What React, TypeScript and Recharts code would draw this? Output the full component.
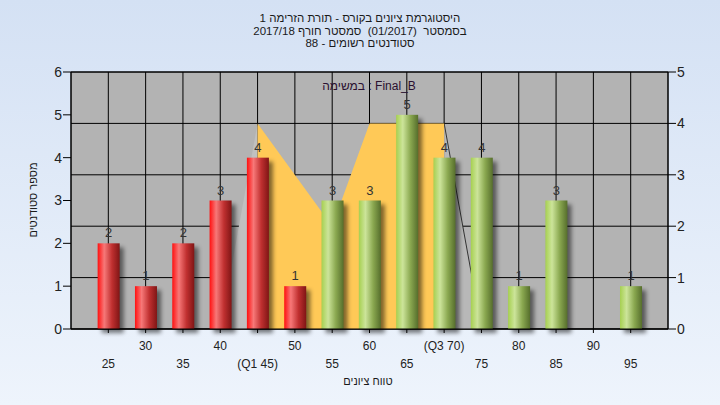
import { ComposedChart, Bar, Area, XAxis, YAxis, CartesianGrid, LabelList } from 'recharts';

// grade buckets and student counts (left axis)
const GRADES = [25, 30, 35, 40, 45, 50, 55, 60, 65, 70, 75, 80, 85, 90, 95];
const COUNTS = [2, 1, 2, 3, 4, 1, 3, 3, 5, 4, 4, 1, 3, 0, 1];
const PASS_FROM = 55;
const TICK_NAMES: Record<number, string> = { 45: '(Q1 45)', 70: '(Q3 70)' };

// Q1..Q3 band (right axis)
const BAND_GRADES = [45, 55, 60, 70];
const BAND_VALUES = [4, 2, 4, 4];
const SIDE_L_GRADES = [40, 45];
const SIDE_L_VALUES = [0, 4];
const SIDE_R_GRADES = [70, 75];
const SIDE_R_VALUES = [4, 0];

const LEFT_TICKS = [0, 1, 2, 3, 4, 5, 6];
const RIGHT_TICKS = [0, 1, 2, 3, 4, 5];

const TITLE_LINES = [
  'היסטוגרמת ציונים בקורס - תורת הזרימה 1',
  'בסמסטר  (01/2017)  סמסטר חורף 2017/18',
  'סטודנטים רשומים - 88',
];
const TASK_LABEL = 'במשימה : Final_B';
const X_TITLE = 'טווח ציונים';
const Y_TITLE = 'מספר סטודנטים';

const pick = (gs: number[], vs: number[], g: number) => {
  const i = gs.indexOf(g);
  return i < 0 ? null : vs[i];
};

const data = GRADES.map((g, i) => ({
  grade: g,
  count: COUNTS[i],
  band: pick(BAND_GRADES, BAND_VALUES, g),
  sideL: pick(SIDE_L_GRADES, SIDE_L_VALUES, g),
  sideR: pick(SIDE_R_GRADES, SIDE_R_VALUES, g),
}));

const CylBar = (props: any) => {
  const { x, y, width, height, payload } = props;
  if (!height || height <= 0) return null;
  const fill = payload && payload.grade >= PASS_FROM ? 'url(#gGreen)' : 'url(#gRed)';
  return (
    <g>
      <rect x={x + 4} y={y + 4} width={width} height={height} fill="#000" opacity={0.5} filter="url(#barShadow)" />
      <rect x={x} y={y} width={width} height={height} fill={fill} />
    </g>
  );
};

const GradeTick = ({ x, y, payload }: any) => {
  const v = payload.value;
  const dy = v % 10 === 0 ? 15 : 33;
  return (
    <text x={x} y={y + dy} textAnchor="middle" fontSize={12} fill="#222">
      {TICK_NAMES[v] ?? v}
    </text>
  );
};

const heb = { direction: 'rtl' as const, whiteSpace: 'pre' as const };

export default function App() {
  return (
    <div
      style={{
        position: 'absolute',
        left: 0,
        top: 0,
        width: 720,
        height: 405,
        background: 'linear-gradient(180deg, #d4e1f4 0%, #eef4fc 100%)',
        fontFamily: '"Liberation Sans", Arial, sans-serif',
      }}
    >
      <div style={{ position: 'absolute', left: 0, top: 12, width: 720, textAlign: 'center', fontSize: 11.5, lineHeight: '12.5px', color: '#1a1a1a' }}>
        {TITLE_LINES.map(t => (
          <div key={t} style={heb}>{t}</div>
        ))}
      </div>

      <ComposedChart width={720} height={405} data={data} margin={{ top: 72, right: 0, bottom: 0, left: 0 }}>
        <defs>
          <linearGradient id="gRed" x1="0" y1="0" x2="1" y2="0">
            <stop offset="0%" stopColor="#ff1010" />
            <stop offset="30%" stopColor="#f77878" />
            <stop offset="65%" stopColor="#c03030" />
            <stop offset="100%" stopColor="#801515" />
          </linearGradient>
          <linearGradient id="gGreen" x1="0" y1="0" x2="1" y2="0">
            <stop offset="0%" stopColor="#a6d050" />
            <stop offset="30%" stopColor="#cce49a" />
            <stop offset="65%" stopColor="#8aa850" />
            <stop offset="100%" stopColor="#566e2c" />
          </linearGradient>
          <filter id="barShadow" x="-50%" y="-10%" width="200%" height="120%">
            <feGaussianBlur stdDeviation="2" />
          </filter>
        </defs>
        <CartesianGrid fill="#b3b3b3" fillOpacity={1} stroke="#000" strokeOpacity={1} />
        <CartesianGrid yAxisId="right" vertical={false} stroke="#000" strokeOpacity={1} />
        <XAxis
          dataKey="grade"
          type="number"
          domain={[20, 100]}
          ticks={GRADES}
          height={76}
          interval={0}
          tickSize={4}
          axisLine={{ stroke: '#000' }}
          tickLine={{ stroke: '#000' }}
          tick={<GradeTick />}
        />
        <YAxis
          yAxisId="left"
          domain={[0, 6]}
          ticks={LEFT_TICKS}
          width={71}
          tickSize={8}
          tickMargin={1}
          axisLine={{ stroke: '#000' }}
          tickLine={{ stroke: '#000' }}
          tick={{ fontSize: 14, fill: '#222' }}
        />
        <YAxis
          yAxisId="right"
          orientation="right"
          domain={[0, 5]}
          ticks={RIGHT_TICKS}
          width={52}
          tickSize={8}
          tickMargin={1}
          axisLine={{ stroke: '#000' }}
          tickLine={{ stroke: '#000' }}
          tick={{ fontSize: 14, fill: '#222' }}
        />
        <Area yAxisId="right" type="linear" dataKey="sideL" connectNulls fill="#c0c0c0" fillOpacity={1} stroke="none" isAnimationActive={false} />
        <Area yAxisId="right" type="linear" dataKey="sideR" connectNulls fill="#b8b8b8" fillOpacity={1} stroke="#333" strokeWidth={1} isAnimationActive={false} />
        <Area yAxisId="right" type="linear" dataKey="band" connectNulls fill="#ffc957" fillOpacity={1} stroke="none" isAnimationActive={false} />
        <Bar yAxisId="left" dataKey="count" barSize={22} shape={<CylBar />} isAnimationActive={false}>
          <LabelList
            dataKey="count"
            position="top"
            offset={6}
            fontSize={13}
            fill="#333"
            formatter={(v: any) => (v === 0 ? '' : v)}
          />
        </Bar>
      </ComposedChart>

      <div style={{ position: 'absolute', left: 369, top: 86, transform: 'translate(-50%, -50%)', fontSize: 12, color: '#2a1030', whiteSpace: 'pre' }}>
        {TASK_LABEL}
      </div>
      <div style={{ ...heb, position: 'absolute', left: 368, top: 381, transform: 'translate(-50%, -50%)', fontSize: 11, color: '#1a1a1a' }}>
        {X_TITLE}
      </div>
      <div style={{ ...heb, position: 'absolute', left: 33, top: 200, transform: 'translate(-50%, -50%) rotate(-90deg)', fontSize: 11, color: '#1a1a1a' }}>
        {Y_TITLE}
      </div>
    </div>
  );
}
